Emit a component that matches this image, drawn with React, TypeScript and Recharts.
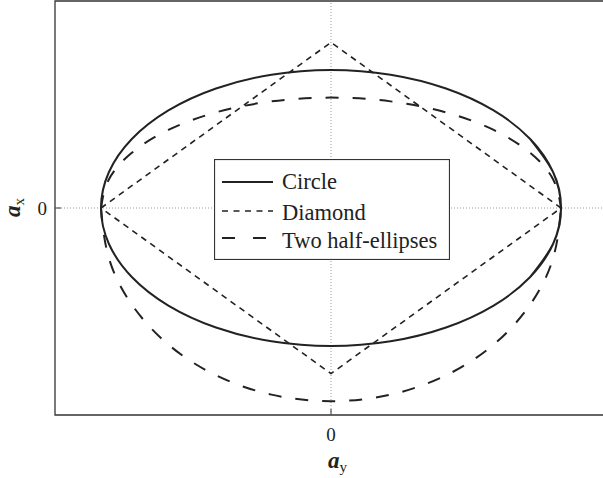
import { Legend, Line, LineChart, ReferenceArea, ReferenceLine, XAxis, YAxis } from 'recharts';

const FONT = '"Liberation Serif", "Times New Roman", serif';
const INK = '#222';

// a_y is normalised so the circle reaches ±1 sideways; a_x uses the same unit
const AY_DOMAIN = [-1.2, 1.2];
const AX_DOMAIN = [-0.9, 0.9];
const ZERO_TICKS = [0];

// closed loop, drawn a little past the start so the spline joins cleanly
const circleAy = [0.866, 0.9659, 1, 0.9659, 0.866, 0.7071, 0.5, 0.2588, 0, -0.2588, -0.5, -0.7071, -0.866, -0.9659, -1, -0.9659, -0.866, -0.7071, -0.5, -0.2588, 0, 0.2588, 0.5, 0.7071, 0.866, 0.9659, 1, 0.9659, 0.866];
const circleAx = [-0.3, -0.1553, 0, 0.1553, 0.3, 0.4243, 0.5196, 0.5796, 0.6, 0.5796, 0.5196, 0.4243, 0.3, 0.1553, 0, -0.1553, -0.3, -0.4243, -0.5196, -0.5796, -0.6, -0.5796, -0.5196, -0.4243, -0.3, -0.1553, 0, 0.1553, 0.3];

const diamondAy = [-1, 0, 1, 0, -1];
const diamondAx = [0, 0.72, 0, -0.72, 0];

const halfAy = [-1, -0.9659, -0.866, -0.7071, -0.5, -0.2588, 0, 0.2588, 0.5, 0.7071, 0.866, 0.9659, 1];
const upperHalfAx = [0, 0.1242, 0.24, 0.3394, 0.4157, 0.4636, 0.48, 0.4636, 0.4157, 0.3394, 0.24, 0.1242, 0];
const lowerHalfAx = [0, -0.2174, -0.42, -0.594, -0.7275, -0.8114, -0.84, -0.8114, -0.7275, -0.594, -0.42, -0.2174, 0];

const toPoints = (ay: number[], ax: number[]) => ay.map((v, i) => ({ ay: v, ax: ax[i] }));

const circleData = toPoints(circleAy, circleAx);
const diamondData = toPoints(diamondAy, diamondAx);
const upperHalfData = toPoints(halfAy, upperHalfAx);
const lowerHalfData = toPoints(halfAy, lowerHalfAx);

const legendRows = [
  { name: 'Circle', dash: undefined, width: 2 },
  { name: 'Diamond', dash: '6 5.5', width: 1.6 },
  { name: 'Two half-ellipses', dash: '13 18', width: 2 },
];

// sample line and text baseline for each legend row, inside the box
const ROW_LINE_Y = [23, 52, 79];
const ROW_BASELINE_Y = [29.5, 60.5, 89];

function LegendBox() {
  return (
    <svg width={236} height={101} style={{ display: 'block' }}>
      <rect x={0.5} y={0.5} width={235} height={100} fill="#fff" stroke="#333" strokeWidth={1.2} />
      {legendRows.map((row, i) => (
        <g key={row.name}>
          <line x1={8} x2={59} y1={ROW_LINE_Y[i]} y2={ROW_LINE_Y[i]} stroke={INK} strokeWidth={row.width} strokeDasharray={row.dash} />
          <text x={68} y={ROW_BASELINE_Y[i]} fontFamily={FONT} fontSize={22.5} fill={INK}>
            {row.name}
          </text>
        </g>
      ))}
    </svg>
  );
}

function AyTitle({ viewBox }: any) {
  const { x, y, width } = viewBox;
  return (
    <text x={x + width / 2 - 3} y={y + 53} fontFamily={FONT} fill={INK}>
      <tspan fontSize={23} fontWeight="bold" fontStyle="italic">a</tspan>
      <tspan fontSize={15} dy={4}>y</tspan>
    </text>
  );
}

function AxTitle({ viewBox }: any) {
  const cx = 20;
  const cy = viewBox.y + viewBox.height / 2 + 9;
  return (
    <text x={cx} y={cy} transform={`rotate(-90 ${cx} ${cy})`} fontFamily={FONT} fill={INK}>
      <tspan fontSize={23} fontWeight="bold" fontStyle="italic">a</tspan>
      <tspan fontSize={15} dy={4}>x</tspan>
    </text>
  );
}

export default function App() {
  const tickStyle = { fontFamily: FONT, fontSize: 19, fill: INK };
  return (
    <div style={{ position: 'absolute', left: 0, top: 0, width: 603, height: 478, overflow: 'hidden', background: '#fff' }}>
      <LineChart width={620} height={478} margin={{ top: 1, right: 13, bottom: 0, left: 0 }}>
        <XAxis
          dataKey="ay"
          type="number"
          domain={AY_DOMAIN}
          ticks={ZERO_TICKS}
          height={63}
          axisLine={false}
          tickLine={{ stroke: '#333' }}
          tickSize={-6}
          tickMargin={19}
          tick={tickStyle}
          label={{ content: AyTitle }}
        />
        <YAxis
          dataKey="ax"
          type="number"
          domain={AX_DOMAIN}
          ticks={ZERO_TICKS}
          width={55}
          axisLine={false}
          tickLine={{ stroke: '#333' }}
          tickSize={-6}
          tickMargin={14}
          tick={tickStyle}
          label={{ content: AxTitle }}
        />
        <ReferenceLine x={0} stroke="#999" strokeWidth={1} strokeDasharray="1 2" />
        <ReferenceLine y={0} stroke="#999" strokeWidth={1} strokeDasharray="1 2" />
        <ReferenceArea x1={AY_DOMAIN[0]} x2={AY_DOMAIN[1]} y1={AX_DOMAIN[0]} y2={AX_DOMAIN[1]} fill="none" stroke="#333" strokeWidth={1.3} />
        <Line data={diamondData} dataKey="ax" name="Diamond" type="linear" stroke={INK} strokeWidth={1.6} strokeDasharray="6 5" dot={false} isAnimationActive={false} />
        <Line data={upperHalfData} dataKey="ax" name="Two half-ellipses" type="natural" stroke={INK} strokeWidth={2} strokeDasharray="13 14" dot={false} isAnimationActive={false} />
        <Line data={lowerHalfData} dataKey="ax" name="Two half-ellipses (lower)" type="natural" stroke={INK} strokeWidth={2} strokeDasharray="13 14" dot={false} legendType="none" isAnimationActive={false} />
        <Line data={circleData} dataKey="ax" name="Circle" type="natural" stroke={INK} strokeWidth={2} dot={false} isAnimationActive={false} />
        <Legend
          layout="vertical"
          align="center"
          verticalAlign="middle"
          content={LegendBox}
          wrapperStyle={{ left: 214, top: 159, width: 236, height: 101 }}
        />
      </LineChart>
    </div>
  );
}
